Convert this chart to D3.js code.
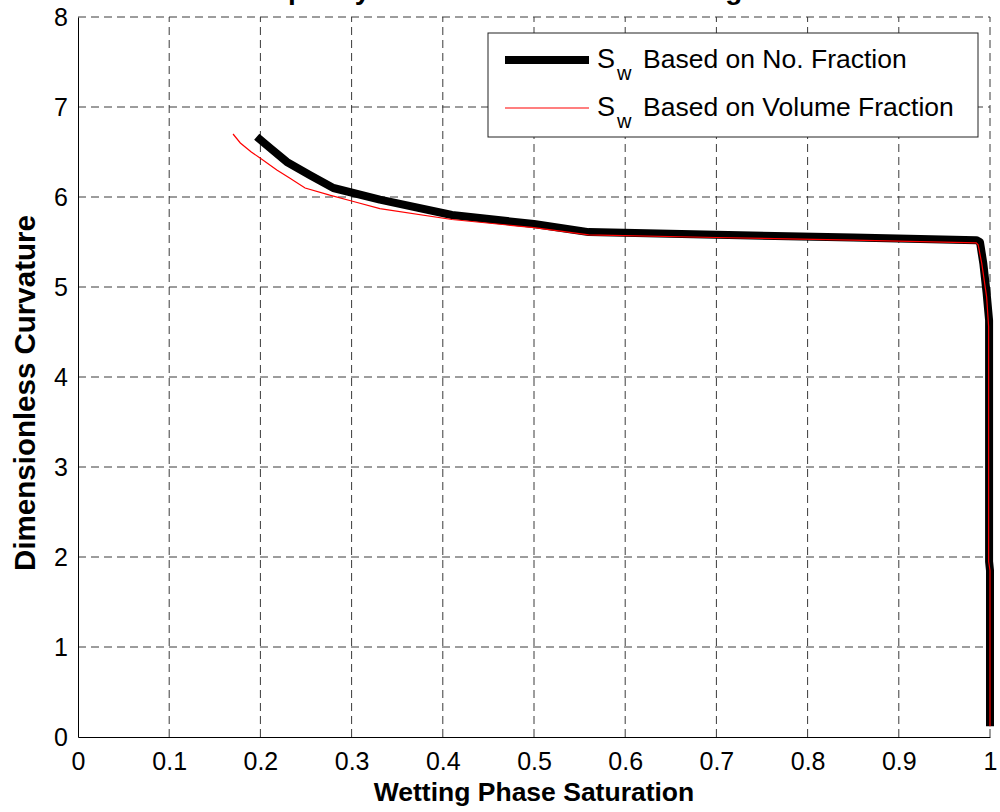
<!DOCTYPE html>
<html>
<head>
<meta charset="utf-8">
<script src="https://cdn.jsdelivr.net/npm/d3@7"></script>
<style>
  html, body { margin: 0; padding: 0; background: #fff; }
  svg { display: block; font-family: "Liberation Sans", Arial, Helvetica, sans-serif; }
</style>
</head>
<body>
<svg id="chart" width="1000" height="812"></svg>
<script>
// Wetting phase saturation vs. dimensionless curvature (drainage curve)
const titleText = "Capillary Pressure Curve for Drainage";
const xLabel = "Wetting Phase Saturation";
const yLabel = "Dimensionless Curvature";

const xTicks = [0, 0.1, 0.2, 0.3, 0.4, 0.5, 0.6, 0.7, 0.8, 0.9, 1];
const yTicks = [0, 1, 2, 3, 4, 5, 6, 7, 8];

// Saturation computed from the number fraction of filled pores
const swNumber = [0.196, 0.21, 0.229, 0.255, 0.28, 0.331, 0.41, 0.50, 0.56, 0.70, 0.85, 0.985, 0.989, 0.9927, 0.9963, 0.999, 0.999, 1.0, 1.0];
const kNumber  = [6.67, 6.55, 6.39, 6.24, 6.10, 5.97, 5.80, 5.70, 5.61, 5.58, 5.55, 5.52, 5.50, 5.26, 4.93, 4.63, 1.95, 1.85, 0.12];

// Saturation computed from the volume fraction of filled pores
const swVolume = [0.170, 0.178, 0.19, 0.20, 0.218, 0.232, 0.249, 0.276, 0.302, 0.331, 0.41, 0.50, 0.56, 0.70, 0.85, 0.985, 0.987, 0.991, 0.9963, 0.9985, 0.9985, 1.0, 1.0];
const kVolume  = [6.70, 6.60, 6.50, 6.43, 6.30, 6.21, 6.10, 6.02, 5.95, 5.87, 5.75, 5.66, 5.58, 5.55, 5.52, 5.49, 5.47, 5.26, 4.89, 4.56, 1.95, 1.85, 0.12];

const seriesNames = ["Based on No. Fraction", "Based on Volume Fraction"];

const svg = d3.select("#chart");
const plotLeft = 78, plotRight = 990, plotTop = 17, plotBottom = 737;
const fontFamily = "Liberation Sans, Arial, sans-serif";

const x = d3.scaleLinear().domain([0, 1]).range([plotLeft, plotRight]);
const y = d3.scaleLinear().domain([0, 8]).range([plotBottom, plotTop]);

// dashed grid (also forms the top and right edges of the box)
const grid = svg.append("g").attr("stroke", "#3a3a3a").attr("stroke-width", 1)
  .attr("stroke-dasharray", "8,5").attr("fill", "none");
xTicks.slice(1).forEach(v => {
  grid.append("line").attr("x1", x(v)).attr("x2", x(v)).attr("y1", plotBottom).attr("y2", plotTop);
});
yTicks.slice(1).forEach(v => {
  grid.append("line").attr("x1", plotLeft).attr("x2", plotRight).attr("y1", y(v)).attr("y2", y(v));
});

// axes
const xAxis = d3.axisBottom(x).tickValues(xTicks).tickSize(0).tickPadding(15)
  .tickFormat(d => d === 0 || d === 1 ? d3.format("d")(d) : d3.format(".1f")(d));
const gx = svg.append("g").attr("transform", `translate(0,${plotBottom})`).call(xAxis);
gx.select(".domain").attr("stroke", "#000");
gx.selectAll("text").attr("font-size", 25).attr("fill", "#000").attr("font-family", fontFamily);

const yAxis = d3.axisLeft(y).tickValues(yTicks).tickSize(0).tickPadding(10)
  .tickFormat(d3.format("d"));
const gy = svg.append("g").attr("transform", `translate(${plotLeft},0)`).call(yAxis);
gy.select(".domain").attr("stroke", "#000");
gy.selectAll("text").attr("font-size", 25).attr("fill", "#000").attr("font-family", fontFamily);

// axis titles
svg.append("text").attr("x", (plotLeft + plotRight) / 2).attr("y", 801)
  .attr("text-anchor", "middle").attr("font-weight", "bold").attr("font-size", 26.5)
  .text(xLabel);
svg.append("text").attr("transform", "translate(35,393) rotate(-90)")
  .attr("text-anchor", "middle").attr("font-weight", "bold").attr("font-size", 29.5)
  .text(yLabel);

// title (sits above the drawing area, only its descenders fall inside the page)
svg.append("text").attr("x", 505).attr("y", -1)
  .attr("text-anchor", "middle").attr("font-weight", "bold").attr("font-size", 28)
  .text(titleText);

// curves
const line = d3.line().x(d => x(d[0])).y(d => y(d[1]));
const numberPts = d3.zip(swNumber, kNumber);
const volumePts = d3.zip(swVolume, kVolume);

svg.append("path").datum(numberPts).attr("d", line)
  .attr("fill", "none").attr("stroke", "#000").attr("stroke-width", 8)
  .attr("stroke-linejoin", "round").attr("stroke-linecap", "butt");
svg.append("path").datum(volumePts).attr("d", line)
  .attr("fill", "none").attr("stroke", "#ff0000").attr("stroke-width", 1.2);

// legend
const lg = svg.append("g");
lg.append("rect").attr("x", 488).attr("y", 33).attr("width", 490).attr("height", 104)
  .attr("fill", "#fff").attr("stroke", "#222").attr("stroke-width", 1);
const legendRows = [
  { name: seriesNames[0], color: "#000", width: 8, y: 60 },
  { name: seriesNames[1], color: "#ff0000", width: 1.2, y: 108 }
];
legendRows.forEach(r => {
  lg.append("line").attr("x1", 505).attr("x2", 589).attr("y1", r.y).attr("y2", r.y)
    .attr("stroke", r.color).attr("stroke-width", r.width);
  lg.append("text").attr("x", 597).attr("y", r.y + 8).attr("font-size", 27).text("S");
  lg.append("text").attr("x", 617).attr("y", r.y + 20).attr("font-size", 20).text("w");
  lg.append("text").attr("x", 643).attr("y", r.y + 8).attr("font-size", 26.5).text(r.name);
});
</script>
</body>
</html>
